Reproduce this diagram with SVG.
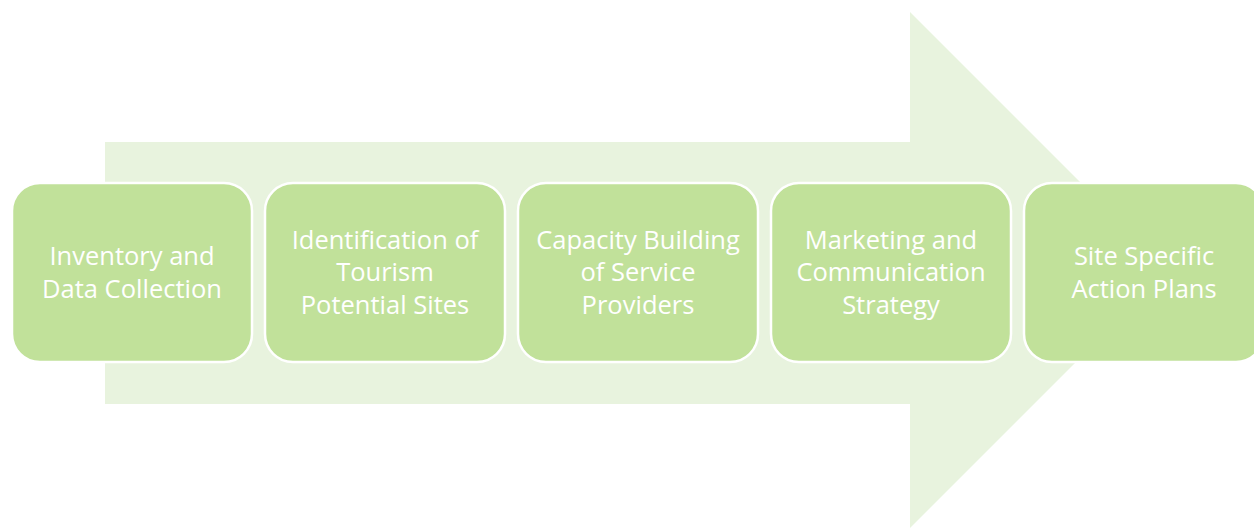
<svg xmlns="http://www.w3.org/2000/svg" width="1254" height="529" viewBox="0 0 1254 529">
<style>
.box{fill:#C1E19A;stroke:#FFFFFF;stroke-width:2.5}
.lbl{font-family:"Open Sans","Liberation Sans",sans-serif;font-size:25.5px;fill:#FFFFFF;text-anchor:middle}
</style>
<rect width="1254" height="529" fill="#FFFFFF"/>
<g id="arrow">
<polygon points="105,142 910,142 910,12 1168,270 910,528 910,404 105,404" fill="#E8F3DE"/>
</g>
<g id="connectors"></g>
<g id="node1">
<rect class="box" x="12" y="183" width="240" height="179" rx="28"/>
<text class="lbl" x="132" y="265">Inventory and</text>
<text class="lbl" x="132" y="298">Data Collection</text>
</g>
<g id="node2">
<rect class="box" x="265" y="183" width="240" height="179" rx="28"/>
<text class="lbl" x="385" y="249">Identification of</text>
<text class="lbl" x="385" y="281">Tourism</text>
<text class="lbl" x="385" y="314">Potential Sites</text>
</g>
<g id="node3">
<rect class="box" x="518" y="183" width="240" height="179" rx="28"/>
<text class="lbl" x="638" y="249">Capacity Building</text>
<text class="lbl" x="638" y="281">of Service</text>
<text class="lbl" x="638" y="314">Providers</text>
</g>
<g id="node4">
<rect class="box" x="771" y="183" width="240" height="179" rx="28"/>
<text class="lbl" x="891" y="249">Marketing and</text>
<text class="lbl" x="891" y="281">Communication</text>
<text class="lbl" x="891" y="314">Strategy</text>
</g>
<g id="node5">
<rect class="box" x="1024" y="183" width="240" height="179" rx="28"/>
<text class="lbl" x="1144" y="265">Site Specific</text>
<text class="lbl" x="1144" y="298">Action Plans</text>
</g>
</svg>
